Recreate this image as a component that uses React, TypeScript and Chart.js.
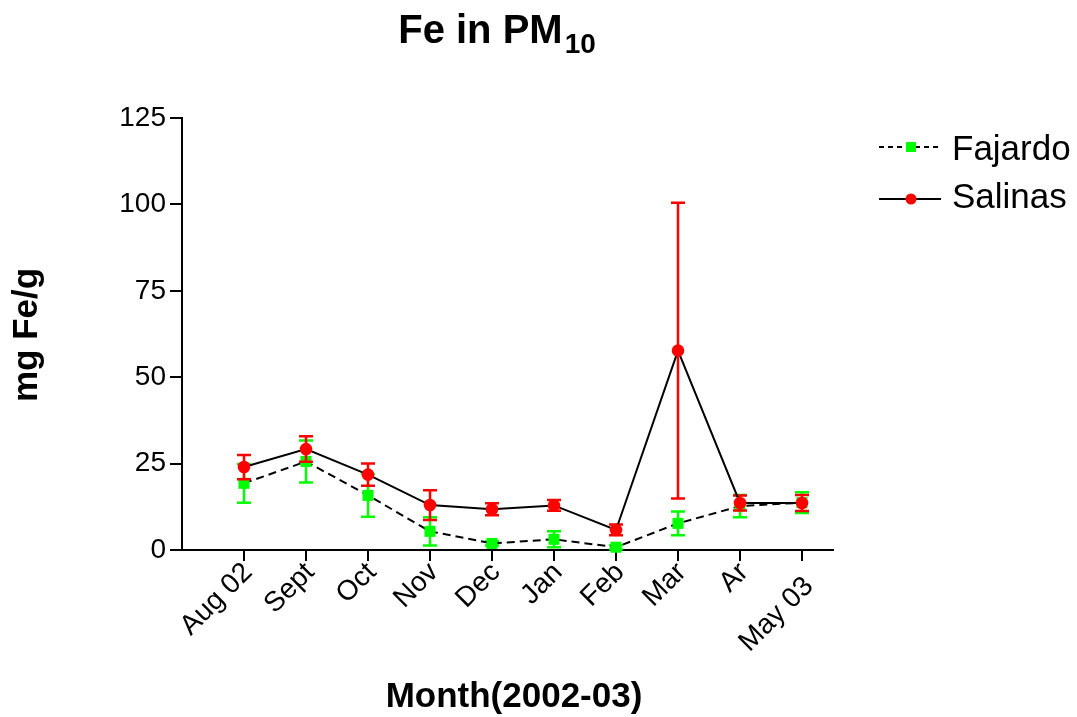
import React, { useEffect, useRef } from 'react';
import { Chart, registerables } from 'chart.js';

Chart.register(...registerables);

// ---- data ----
const months = ['Aug 02', 'Sept', 'Oct', 'Nov', 'Dec', 'Jan', 'Feb', 'Mar', 'Ar', 'May 03'];
const fajardo = [19.3, 25.6, 15.8, 5.4, 1.9, 3.1, 0.8, 7.7, 12.7, 13.7];
const fajardoErr = [5.6, 6.1, 6.2, 4.1, 0.6, 2.3, 0.6, 3.45, 3.2, 3.0];
const salinas = [24.0, 29.2, 21.8, 13.0, 11.8, 12.9, 5.8, 57.7, 13.6, 13.6];
const salinasErr = [3.5, 3.7, 3.2, 4.3, 1.75, 1.55, 1.55, 42.8, 2.2, 2.35];
const yTicks = [0, 25, 50, 75, 100, 125];
const seriesNames = ['Fajardo', 'Salinas'];
const titleMain = 'Fe in PM';
const titleSub = '10';
const xTitle = 'Month(2002-03)';
const yTitle = 'mg Fe/g';

const FONT = '"Liberation Sans", Arial, Helvetica, sans-serif';
const GREEN = '#00ff00';
const RED = '#ff0000';

const errorArrays = [fajardoErr, salinasErr];

const errorBarPlugin = {
  id: 'errorBars',
  beforeDatasetDraw(chart: any, args: any) {
    const i = args.index;
    const ds = chart.data.datasets[i];
    const errs = errorArrays[i];
    const xs = chart.scales.x;
    const ys = chart.scales.y;
    const ctx = chart.ctx;
    ctx.save();
    ctx.strokeStyle = ds.pointBackgroundColor;
    ctx.lineWidth = 2.5;
    ctx.setLineDash([]);
    ds.data.forEach((p: any, k: number) => {
      const e = errs[k];
      const x = xs.getPixelForValue(p.x);
      const yt = ys.getPixelForValue(p.y + e);
      const yb = ys.getPixelForValue(Math.max(0, p.y - e));
      ctx.beginPath();
      ctx.moveTo(x, yt);
      ctx.lineTo(x, yb);
      ctx.moveTo(x - 7, yt);
      ctx.lineTo(x + 7, yt);
      ctx.moveTo(x - 7, yb);
      ctx.lineTo(x + 7, yb);
      ctx.stroke();
    });
    ctx.restore();
  },
};

const textPlugin = {
  id: 'texts',
  afterDraw(chart: any) {
    const ctx = chart.ctx;
    const xs = chart.scales.x;
    ctx.save();
    ctx.fillStyle = '#000';

    // x tick labels (rotated 45deg)
    ctx.font = `28px ${FONT}`;
    ctx.textAlign = 'right';
    ctx.textBaseline = 'middle';
    months.forEach((m, i) => {
      const last = i === months.length - 1;
      const ax = xs.getPixelForValue(i) + (last ? 7 : 4);
      const ay = last ? 582 : 568;
      ctx.save();
      ctx.translate(ax, ay);
      ctx.rotate(-Math.PI / 4);
      ctx.fillText(m, 0, 0);
      ctx.restore();
    });

    // title
    ctx.textBaseline = 'alphabetic';
    ctx.font = `bold 40px ${FONT}`;
    const wMain = ctx.measureText(titleMain).width;
    ctx.font = `bold 28px ${FONT}`;
    const wSub = ctx.measureText(titleSub).width;
    const tx = 497 - (wMain + wSub + 2) / 2;
    ctx.textAlign = 'left';
    ctx.font = `bold 40px ${FONT}`;
    ctx.fillText(titleMain, tx, 43);
    ctx.font = `bold 28px ${FONT}`;
    ctx.fillText(titleSub, tx + wMain + 2, 53);

    // x title
    ctx.font = `bold 35px ${FONT}`;
    ctx.textAlign = 'center';
    ctx.fillText(xTitle, 514, 707);

    // y title
    ctx.save();
    ctx.translate(37, 335);
    ctx.rotate(-Math.PI / 2);
    ctx.fillText(yTitle, 0, 0);
    ctx.restore();

    // legend
    const rows = [
      { y: 147, base: 160, dash: [5, 4], color: GREEN, shape: 'rect' },
      { y: 199, base: 208, dash: [], color: RED, shape: 'circle' },
    ];
    rows.forEach((r, i) => {
      ctx.strokeStyle = '#000';
      ctx.lineWidth = 2;
      ctx.setLineDash(r.dash);
      ctx.beginPath();
      ctx.moveTo(879, r.y);
      ctx.lineTo(941, r.y);
      ctx.stroke();
      ctx.setLineDash([]);
      ctx.fillStyle = r.color;
      if (r.shape === 'rect') {
        ctx.fillRect(911 - 5, r.y - 5, 10, 10);
      } else {
        ctx.beginPath();
        ctx.arc(911, r.y, 5.5, 0, Math.PI * 2);
        ctx.fill();
      }
      ctx.fillStyle = '#000';
      ctx.font = `35px ${FONT}`;
      ctx.textAlign = 'left';
      ctx.fillText(seriesNames[i], 952, r.base);
    });
    ctx.restore();
  },
};

export default function App() {
  const ref = useRef<HTMLCanvasElement | null>(null);
  useEffect(() => {
    if (!ref.current) return;
    const chart = new Chart(ref.current, {
      type: 'line',
      data: {
        datasets: [
          {
            label: seriesNames[0],
            data: fajardo.map((v, i) => ({ x: i, y: v })),
            borderColor: '#000',
            borderWidth: 2,
            borderDash: [8, 5],
            pointStyle: 'rect',
            pointRadius: 7.8,
            pointBorderWidth: 0,
            pointBackgroundColor: GREEN,
            pointBorderColor: GREEN,
            tension: 0,
            clip: false as any,
            order: 2,
          } as any,
          {
            label: seriesNames[1],
            data: salinas.map((v, i) => ({ x: i, y: v })),
            borderColor: '#000',
            borderWidth: 2,
            pointStyle: 'circle',
            pointRadius: 6.3,
            pointBorderWidth: 0,
            pointBackgroundColor: RED,
            pointBorderColor: RED,
            tension: 0,
            clip: false as any,
            order: 1,
          } as any,
        ],
      },
      options: {
        responsive: false,
        animation: false,
        layout: { padding: { top: 118, right: 244, left: 0, bottom: 0 } },
        plugins: {
          legend: { display: false },
          title: { display: false },
          tooltip: { enabled: false },
        },
        scales: {
          x: {
            type: 'linear',
            min: -1,
            max: 9.5,
            afterBuildTicks: (s: any) => {
              s.ticks = months.map((_, i) => ({ value: i }));
            },
            afterFit: (s: any) => {
              s.height = 717 - 550;
            },
            ticks: {
              display: false,
              autoSkip: false,
            },
            grid: {
              display: true,
              drawOnChartArea: false,
              drawTicks: true,
              tickLength: 11,
              color: '#000',
              lineWidth: 2,
            },
            border: { display: true, color: '#000', width: 2 },
          },
          y: {
            type: 'linear',
            min: 0,
            max: 125,
            afterBuildTicks: (s: any) => {
              s.ticks = yTicks.map((v) => ({ value: v }));
            },
            afterFit: (s: any) => {
              s.width = 182;
            },
            ticks: {
              padding: 4,
              color: '#000',
              font: { family: FONT, size: 28 },
            },
            grid: {
              display: true,
              drawOnChartArea: false,
              drawTicks: true,
              tickLength: 12,
              color: '#000',
              lineWidth: 2,
            },
            border: { display: true, color: '#000', width: 2 },
          },
        },
      } as any,
      plugins: [errorBarPlugin, textPlugin],
    });
    return () => chart.destroy();
  }, []);
  return (
    <div style={{ position: 'absolute', left: 0, top: 0, width: 1077, height: 717, background: '#fff' }}>
      <canvas ref={ref} width={1077} height={717} style={{ width: 1077, height: 717 }} />
    </div>
  );
}
